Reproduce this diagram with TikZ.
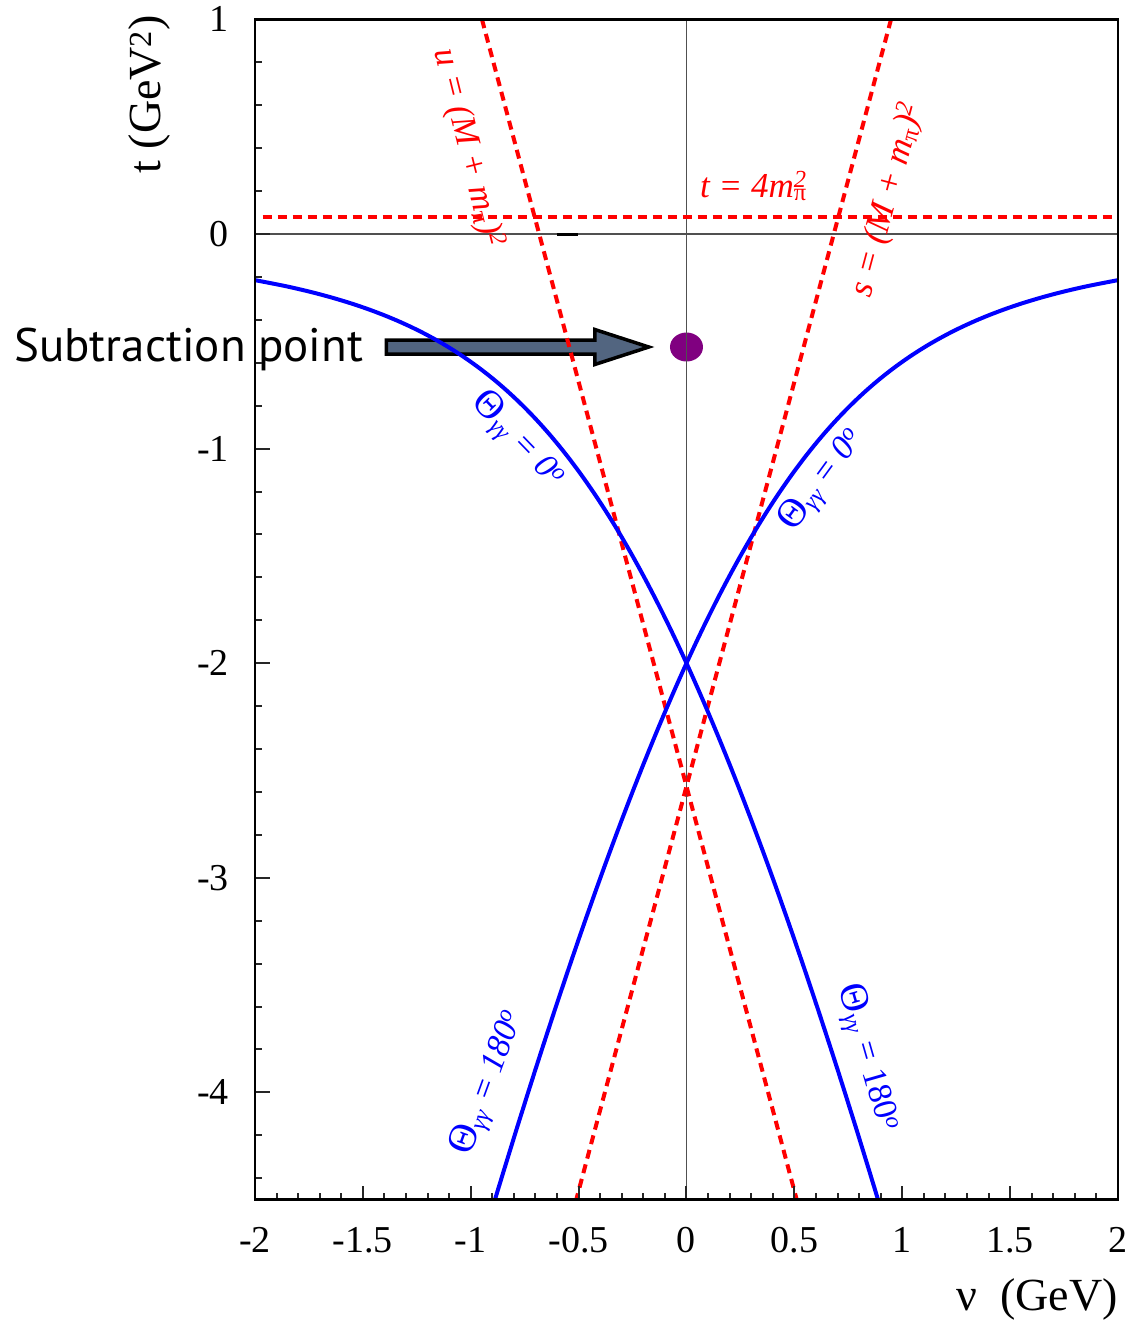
\documentclass[tikz,border=0pt]{standalone}
\usepackage{fontspec}
\setmainfont{Liberation Serif}
\newfontfamily\labelsans{PT Sans}
\usepackage{tikz}
\usetikzlibrary{shapes.geometric,calc}
\definecolor{plotred}{RGB}{255,0,0}
\definecolor{plotblue}{RGB}{0,0,255}
\definecolor{dotpurple}{RGB}{128,0,128}
\definecolor{slate}{RGB}{82,101,128}
\definecolor{axisgray}{RGB}{80,80,80}
\newcommand{\bigtheta}{{\upshape\fontsize{40}{40}\selectfont Θ}}

\begin{document}
\begin{tikzpicture}[x=215.75pt,y=214.6pt,
  ticklabel/.style={inner sep=0,font=\fontsize{38}{40}\selectfont},
  axtitle/.style={inner sep=0,font=\fontsize{46}{50}\selectfont},
  redlabel/.style={inner sep=0,text=plotred,font=\fontsize{35}{38}\selectfont\itshape},
  bluelabel/.style={inner sep=0,text=plotblue,font=\fontsize{34}{38}\selectfont\itshape},
  tickmark/.style={line width=2pt,black!85},
  threshold/.style={plotred,line width=4pt,dash pattern=on 9pt off 6pt},
  angcurve/.style={plotblue,line width=4pt},
  arrowbody/.style={draw=black,line width=3.5pt,fill=slate,line join=miter}]
\useasboundingbox (-3.18192,-5.06524) rectangle (2.06025,1.09040);

% subtraction point and its arrow
\node[anchor=base west,inner sep=0,font=\labelsans\fontsize{47}{50}\selectfont]
  (sublabel) at (-3.117,-0.5964) {Subtraction point};
\node[ellipse,fill=dotpurple,minimum width=33pt,minimum height=29pt,inner sep=0]
  (subpt) at (0,-0.5266) {};
\coordinate (tip) at ($(subpt.west)+(-21pt,0)$);
\coordinate (tail) at ($(sublabel.east |- tip)+(23pt,0)$);
\draw[arrowbody] ($(tail)+(0,7pt)$) -- ($(tip)+(-54pt,7pt)$) -- ($(tip)+(-54pt,17.5pt)$)
  -- (tip) -- ($(tip)+(-54pt,-17.5pt)$) -- ($(tip)+(-54pt,-7pt)$) -- ($(tail)+(0,-7pt)$) -- cycle;

% axes through the origin
\draw[axisgray,line width=1.5pt] (-2,0) -- (2,0);
\draw[axisgray,line width=1.5pt] (0,-4.5) -- (0,1);
\draw[line width=3pt] (-0.6016,0) -- (-0.5015,0);

% thresholds
\draw[threshold] (-1.965,0.079) -- (2,0.079);
\draw[threshold] (-0.948,1) -- (0.511,-4.5);
\draw[threshold] (0.948,1) -- (-0.511,-4.5);

% Theta = 0 / 180 curves
\foreach \s in {1,-1}
  \draw[angcurve,xscale=\s] plot[domain=-4.5:-0.2149,samples=160,smooth]
    ({(\x+2)*(0.3895/sqrt(-\x)+0.1661+0.02459/(-\x))},\x);

% labels of the lines
\node[redlabel,anchor=base west] (tlab) at (0.0626,0.1724)
  {t = 4m\rlap{\textsubscript{\upshape π}}\textsuperscript{2}};
\node[redlabel,rotate=-76] (ulab) at (-1.0128,0.4007)
  {u = (M + m\textsubscript{\upshape π})\textsuperscript{2}};
\node[redlabel,rotate=75] (slab) at (0.9334,0.1584)
  {s = (M + m\textsubscript{\upshape π})\textsuperscript{2}};
\node[bluelabel,rotate=-46] (th1) at (-0.7808,-0.9599)
  {\bigtheta\textsubscript{γγ} = 0\textsuperscript{o}};
\node[bluelabel,rotate=54] (th2) at (0.628,-1.146)
  {\bigtheta\textsubscript{γγ} = 0\textsuperscript{o}};
\node[bluelabel,rotate=70] (th3) at (-0.918,-3.955)
  {\bigtheta\textsubscript{γγ} = 180\textsuperscript{o}};
\node[bluelabel,rotate=-74] (th4) at (0.8413,-3.8397)
  {\bigtheta\textsubscript{γγ} = {\upshape 180}\textsuperscript{o}};

% frame, ticks and tick labels
\foreach \i in {-20,...,20}
  \draw[tickmark] (\i/10,-4.5) -- ++(0,7pt);
\foreach \v in {-2,-1.5,-1,-0.5,0,0.5,1,1.5,2}
  \draw[tickmark] (\v,-4.5) -- ++(0,14pt);
\foreach \j in {-22,...,4}
  \draw[tickmark] (-2,\j/5) -- ++(7pt,0);
\foreach \v in {-4,...,1}
  \draw[tickmark] (-2,\v) -- ++(15pt,0);
\draw[line width=2.5pt] (-2,-4.5) rectangle (2,1);
\foreach \v [count=\k] in {-2,-1.5,-1,-0.5,0,0.5,1,1.5,2}
  \node[ticklabel,anchor=base] (xlab\k) at (\v,-4.7437) {\v};
\foreach \v [count=\k] in {1,0,-1,-2,-3,-4}
  \node[ticklabel,anchor=east] (ylab\k) at (-2.1205,\v) {\v};
\node[axtitle,anchor=base east] (xtitle) at (2,-5.014) {ν\ \ (GeV)};
\node[axtitle,rotate=90,anchor=base east] (ytitle) at (-2.4357,1.0205)
  {t (GeV\textsuperscript{2})};
\end{tikzpicture}
\end{document}
